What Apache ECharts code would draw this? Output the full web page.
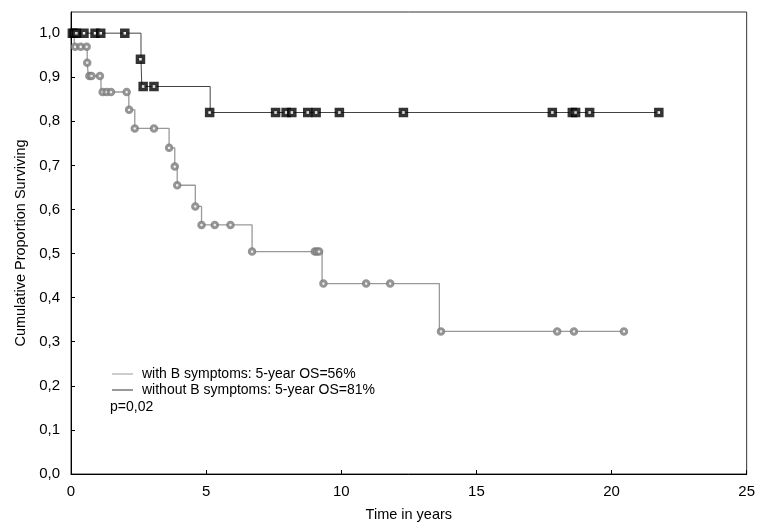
<!DOCTYPE html>
<html>
<head>
<meta charset="utf-8">
<script src="https://cdn.jsdelivr.net/npm/echarts@6/dist/echarts.min.js"></script>
<style>html,body{margin:0;padding:0;background:#fff}#c{width:758px;height:527px}</style>
</head>
<body>
<div id="c"></div>
<script>
// ---- data ----
// "with B symptoms" step curve: time of each drop and survival after the drop
var withB_times = [0, 0.12, 0.60, 0.64, 1.11, 2.14, 2.36, 3.63, 3.84, 3.93, 4.60, 4.83, 6.70, 9.29, 13.63, 20.46];
var withB_surv  = [1.0, 0.969, 0.933, 0.903, 0.8665, 0.826, 0.784, 0.740, 0.6975, 0.655, 0.607, 0.565, 0.5045, 0.432, 0.3235, 0.3235];
// markers (observations) on "with B symptoms" curve
var withB_markT = [0.15, 0.36, 0.58, 0.60, 0.68, 0.76, 1.07, 1.17, 1.32, 1.48, 2.06, 2.15, 2.36, 3.07, 3.63, 3.84, 3.93, 4.60, 4.83, 5.32, 5.90, 6.70, 9.02, 9.10, 9.18, 9.34, 10.92, 11.81, 13.69, 17.99, 18.61, 20.46];
var withB_markS = [0.969, 0.969, 0.969, 0.933, 0.903, 0.903, 0.903, 0.8665, 0.8665, 0.8665, 0.8665, 0.826, 0.784, 0.784, 0.740, 0.6975, 0.655, 0.607, 0.565, 0.565, 0.565, 0.5045, 0.5045, 0.5045, 0.5045, 0.432, 0.432, 0.432, 0.3235, 0.3235, 0.3235, 0.3235];

// "without B symptoms"
var withoutB_times = [0, 2.59, 2.62, 5.15, 21.75];
var withoutB_surv  = [1.0, 0.941, 0.879, 0.820, 0.820];
var withoutB_markT = [0.05, 0.12, 0.20, 0.48, 0.89, 1.10, 1.99, 2.57, 2.67, 3.07, 5.13, 7.57, 7.96, 8.17, 8.76, 9.07, 9.93, 12.30, 17.81, 18.55, 18.67, 19.19, 21.75];
var withoutB_markS = [1.0, 1.0, 1.0, 1.0, 1.0, 1.0, 1.0, 0.941, 0.879, 0.879, 0.820, 0.820, 0.820, 0.820, 0.820, 0.820, 0.820, 0.820, 0.820, 0.820, 0.820, 0.820, 0.820];

var legendLabels = ['with B symptoms: 5-year OS=56%', 'without B symptoms: 5-year OS=81%'];
var pValueText = 'p=0,02';
var xTitle = 'Time in years';
var yTitle = 'Cumulative Proportion Surviving';

function zip(a, b) { return a.map(function (v, i) { return [v, b[i]]; }); }

var chart = echarts.init(document.getElementById('c'), null, { renderer: 'canvas' });
var narrow = '"Liberation Sans Narrow", "Arial Narrow", "Liberation Sans", Arial, sans-serif';
var sans = '"Liberation Sans", Arial, sans-serif';

chart.setOption({
  animation: false,
  backgroundColor: '#fff',
  grid: { left: 71, right: 10, top: 12, bottom: 52, show: true, borderColor: '#333', borderWidth: 1 },
  xAxis: {
    type: 'value', min: 0, max: 25, interval: 5,
    name: xTitle, nameLocation: 'middle', nameGap: 33,
    nameTextStyle: { fontFamily: narrow, fontSize: 14.5, color: '#000' },
    axisLine: { show: true, lineStyle: { color: '#000', width: 1 } },
    axisTick: { show: true, inside: true, length: 4, lineStyle: { color: '#000' } },
    axisLabel: { fontFamily: narrow, fontSize: 15, color: '#000', margin: 10 },
    splitLine: { show: false }
  },
  yAxis: {
    type: 'value', min: 0, max: 1.048, interval: 0.1,
    name: yTitle, nameLocation: 'middle', nameGap: 43,
    nameTextStyle: { fontFamily: narrow, fontSize: 14.5, color: '#000' },
    axisLine: { show: true, lineStyle: { color: '#000', width: 1 } },
    axisTick: { show: true, inside: true, length: 4, lineStyle: { color: '#000' } },
    axisLabel: {
      fontFamily: narrow, fontSize: 15, color: '#000', margin: 11, showMaxLabel: false,
      formatter: function (v) { var r = Math.round(v * 10) / 10; if (Math.abs(r - v) > 1e-6) return ''; return r.toFixed(1).replace('.', ','); }
    },
    splitLine: { show: false }
  },
  series: [
    {
      name: legendLabels[0], type: 'line', step: 'end', symbol: 'none',
      data: zip(withB_times, withB_surv),
      lineStyle: { color: '#999', width: 1.3 }, z: 2
    },
    {
      name: legendLabels[1], type: 'line', step: 'end', symbol: 'none',
      data: zip(withoutB_times, withoutB_surv),
      lineStyle: { color: '#444', width: 1 }, z: 3
    },
    {
      type: 'scatter', symbol: 'circle', symbolSize: 5.5,
      data: zip(withB_markT, withB_markS),
      itemStyle: { color: '#fff', borderColor: '#7a7a7a', borderWidth: 3 }, z: 4
    },
    {
      type: 'scatter', symbol: 'rect', symbolSize: 6,
      data: zip(withoutB_markT, withoutB_markS),
      itemStyle: { color: '#fff', borderColor: '#000', borderWidth: 3.5 }, z: 5
    }
  ],
  graphic: [
    { type: 'line', shape: { x1: 112, y1: 374, x2: 133, y2: 374 }, style: { stroke: '#9a9a9a', lineWidth: 1 } },
    { type: 'text', x: 142, y: 374, style: { text: legendLabels[0], font: '14px ' + sans, fill: '#000', textVerticalAlign: 'middle', verticalAlign: 'middle' } },
    { type: 'line', shape: { x1: 112, y1: 390, x2: 133, y2: 390 }, style: { stroke: '#333', lineWidth: 1 } },
    { type: 'text', x: 142, y: 390, style: { text: legendLabels[1], font: '14px ' + sans, fill: '#000', textVerticalAlign: 'middle', verticalAlign: 'middle' } },
    { type: 'text', x: 110, y: 407, style: { text: pValueText, font: '14px ' + sans, fill: '#000', textVerticalAlign: 'middle', verticalAlign: 'middle' } }
  ]
});
</script>
</body>
</html>
